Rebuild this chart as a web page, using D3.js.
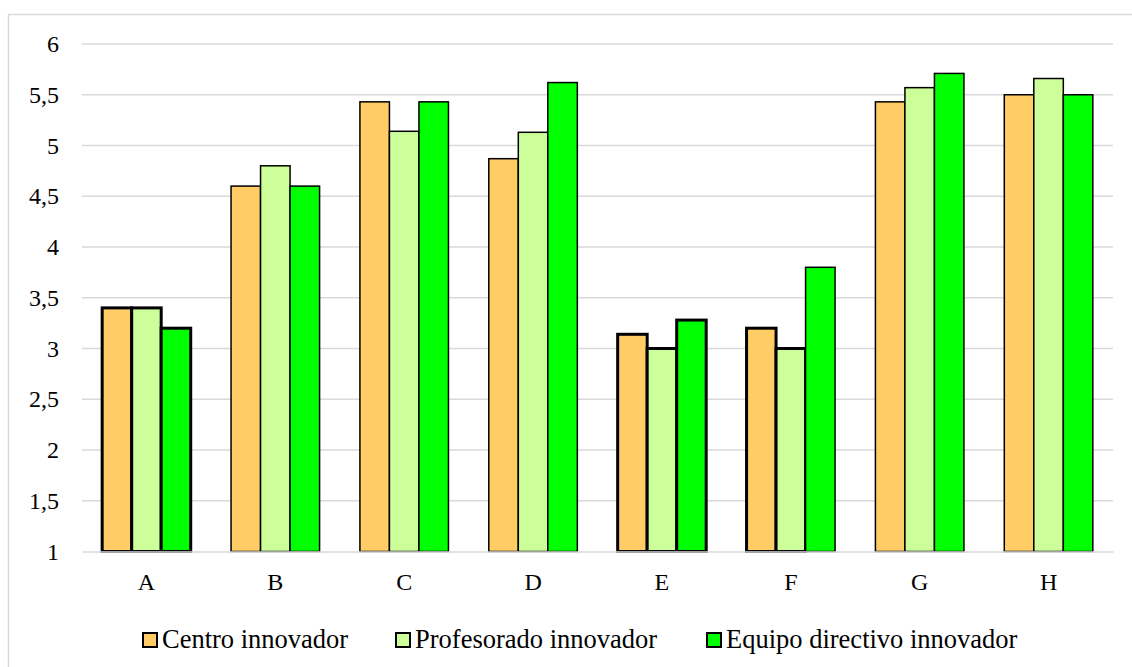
<!DOCTYPE html>
<html>
<head>
<meta charset="utf-8">
<script src="https://cdn.jsdelivr.net/npm/d3@7"></script>
<style>
  html, body { margin: 0; padding: 0; background: #fff; }
  svg { display: block; }
</style>
</head>
<body>
<svg id="chart" width="1132" height="667"></svg>
<script>
// Categories and the three series (mean scores)
const categories = ["A", "B", "C", "D", "E", "F", "G", "H"];
const seriesNames = ["Centro innovador", "Profesorado innovador", "Equipo directivo innovador"];
const centro      = [3.4, 4.6, 5.43, 4.87, 3.14, 3.2, 5.43, 5.5];
const profesorado = [3.4, 4.8, 5.14, 5.13, 3.0, 3.0, 5.57, 5.66];
const directivo   = [3.2, 4.6, 5.43, 5.62, 3.28, 3.8, 5.71, 5.5];
const yTicks = [1, 1.5, 2, 2.5, 3, 3.5, 4, 4.5, 5, 5.5, 6];
// Bars drawn with a heavier outline: [category, series index]
const emphasized = [["A", 0], ["A", 1], ["A", 2], ["E", 0], ["E", 1], ["E", 2], ["F", 0], ["F", 1]];

const colors = ["#FFCC66", "#CCFF99", "#00FF00"];
const seriesValues = [centro, profesorado, directivo];

const svg = d3.select("#chart");
const plot = { left: 82, right: 1113, top: 44, bottom: 551.5 };
const serif = "'Liberation Serif'";

// Outer chart frame
svg.append("rect")
  .attr("x", 8.5).attr("y", 14.5)
  .attr("width", 1140).attr("height", 680)
  .attr("fill", "#fff").attr("stroke", "#d9d9d9").attr("stroke-width", 1.5);

const x0 = d3.scaleBand()
  .domain(categories)
  .range([plot.left, plot.right])
  .paddingInner(0.313)
  .paddingOuter(0.1565);

const x1 = d3.scaleBand()
  .domain(d3.range(seriesNames.length))
  .range([0, x0.bandwidth()]);

const y = d3.scaleLinear().domain([1, 6]).range([plot.bottom, plot.top]);

// Gridlines
svg.append("g")
  .selectAll("line")
  .data(yTicks.slice(1))
  .join("line")
  .attr("x1", plot.left).attr("x2", plot.right)
  .attr("y1", d => y(d)).attr("y2", d => y(d))
  .attr("stroke", "#d9d9d9").attr("stroke-width", 1.5);

// Y axis labels
const fmt = d => String(d).replace(".", ",");
const yAxis = d3.axisLeft(y).tickValues(yTicks).tickFormat(fmt).tickSize(0).tickPadding(0);
const yg = svg.append("g").attr("transform", `translate(59,0)`).call(yAxis);
yg.attr("font-family", null).attr("font-size", null);
yg.select(".domain").remove();
yg.selectAll("text")
  .attr("fill", "#000")
  .style("font-family", serif)
  .style("font-size", "24px");

// Bars
const rows = [];
categories.forEach((c, i) => {
  seriesValues.forEach((vals, s) => {
    const emph = emphasized.some(e => e[0] === c && e[1] === s);
    rows.push({ cat: c, s, v: vals[i], emph });
  });
});

svg.append("g")
  .selectAll("rect")
  .data(rows)
  .join("rect")
  .attr("x", d => x0(d.cat) + x1(d.s))
  .attr("y", d => y(d.v))
  .attr("width", x1.bandwidth())
  .attr("height", d => y(1) - y(d.v))
  .attr("fill", d => colors[d.s])
  .attr("stroke", "#000")
  .attr("stroke-width", d => d.emph ? 3 : 1.5);

// Category axis
const xAxis = d3.axisBottom(x0).tickSize(0).tickPadding(21);
const xg = svg.append("g").attr("transform", `translate(0,${plot.bottom})`).call(xAxis);
xg.attr("font-family", null).attr("font-size", null);
xg.select(".domain").attr("stroke", "#d9d9d9").attr("stroke-width", 1.5);
xg.selectAll("text")
  .attr("fill", "#000")
  .style("font-family", serif)
  .style("font-size", "24px");

// Legend
const legendX = [143, 396, 707];
const lg = svg.append("g").selectAll("g")
  .data(seriesNames)
  .join("g")
  .attr("transform", (d, i) => `translate(${legendX[i]},633)`);
lg.append("rect")
  .attr("width", 14).attr("height", 14)
  .attr("fill", (d, i) => colors[i])
  .attr("stroke", "#000").attr("stroke-width", 2);
lg.append("text")
  .attr("x", 19).attr("y", 14.5)
  .attr("fill", "#000")
  .style("font-family", serif)
  .style("font-size", "26.5px")
  .text(d => d);
</script>
</body>
</html>
